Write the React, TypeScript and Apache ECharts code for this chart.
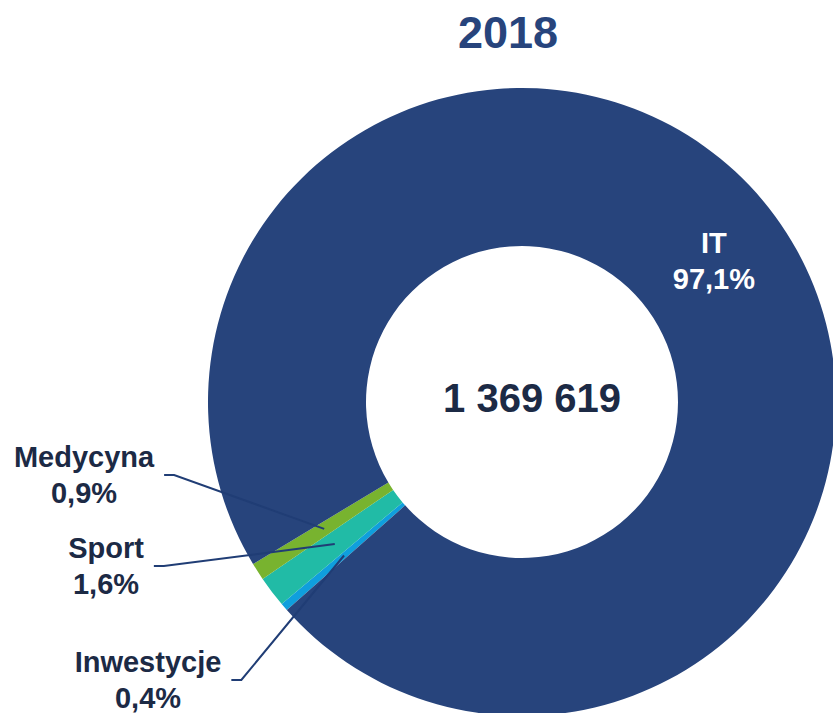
import React, { useEffect, useRef } from 'react';
import * as echarts from 'echarts';

const YEAR = '2018';
const TOTAL = 1369619;
const categories = ['Inwestycje', 'Sport', 'Medycyna', 'IT'];
const shares = [0.4, 1.6, 0.9, 97.1];
const colors = ['#0F9FDD', '#21BBA6', '#78B32F', '#27447C'];

const FONT = '"Liberation Sans", Arial, Helvetica, sans-serif';
const TEXT_DARK = '#1C2A45';
const NAVY = '#27447C';
const LINE_COLOR = '#203D75';
const CX = 522;
const CY = 402;
const R0 = 156;
const R1 = 314;
const START_ANGLE = 221.5;
// label block centres for the outside labels
const labelPos: Record<string, [number, number]> = {
  Medycyna: [84, 475],
  Sport: [106, 566],
  Inwestycje: [148, 680],
};

function fmtPct(v: number) {
  return v.toFixed(1).replace('.', ',') + '%';
}
function fmtTotal(n: number) {
  return String(n).replace(/\B(?=(\d{3})+(?!\d))/g, ' ');
}

function midAngleFromData(idx: number) {
  const sum = shares.reduce((a, b) => a + b, 0);
  let acc = 0;
  for (let i = 0; i < idx; i++) acc += shares[i];
  const mid = acc + shares[idx] / 2;
  return START_ANGLE - (mid / sum) * 360;
}

export default function App() {
  const ref = useRef<HTMLDivElement>(null);
  useEffect(() => {
    if (!ref.current) return;
    const chart = echarts.init(ref.current, undefined, { renderer: 'svg' });
    const common = {
      type: 'pie',
      center: [CX, CY],
      radius: [R0, R1],
      startAngle: START_ANGLE,
      clockwise: true,
      avoidLabelOverlap: false,
      silent: true,
    };
    const option: any = {
      animation: false,
      graphic: [
        {
          type: 'text',
          x: 508,
          y: 32,
          style: {
            text: YEAR,
            align: 'center',
            verticalAlign: 'middle',
            fontSize: 45,
            fontWeight: 'bold',
            fontFamily: FONT,
            fill: NAVY,
          },
        },
        {
          type: 'text',
          x: 532,
          y: 398,
          z: 10,
          style: {
            text: fmtTotal(TOTAL),
            align: 'center',
            verticalAlign: 'middle',
            fontSize: 40,
            fontWeight: 'bold',
            fontFamily: FONT,
            fill: TEXT_DARK,
          },
        },
      ],
      series: [
        {
          ...common,
          z: 2,
          label: { show: false },
          labelLine: { show: false },
          data: categories.map((c, i) => ({
            name: c,
            value: shares[i],
            itemStyle: { color: colors[i] },
          })),
        },
        {
          ...common,
          z: 4,
          label: {
            show: true,
            position: 'outside',
            formatter: (p: any) => p.name + '\n' + fmtPct(p.value),
            fontFamily: FONT,
            fontWeight: 'bold',
            fontSize: 29,
            lineHeight: 36,
            color: TEXT_DARK,
            align: 'center',
          },
          labelLine: {
            show: true,
            showAbove: true,
            smooth: false,
            lineStyle: { color: LINE_COLOR, width: 2 },
          },
          labelLayout: (params: any) => {
            const name = categories[params.dataIndex];
            const pos = labelPos[name];
            if (!pos) return {};
            const k = (R0 + R1) / 2 / R1;
            let start: number[];
            const pts = params.labelLinePoints;
            if (pts && pts[0]) {
              start = [CX + (pts[0][0] - CX) * k, CY + (pts[0][1] - CY) * k];
            } else {
              const a = (midAngleFromData(params.dataIndex) * Math.PI) / 180;
              const rm = (R0 + R1) / 2;
              start = [CX + rm * Math.cos(a), CY - rm * Math.sin(a)];
            }
            const endX = pos[0] + params.labelRect.width / 2 + 10;
            return {
              x: pos[0],
              y: pos[1],
              align: 'center',
              verticalAlign: 'middle',
              labelLinePoints: [start, [endX + 10, pos[1]], [endX, pos[1]]],
            };
          },
          data: categories.map((c, i) => {
            const item: any = {
              name: c,
              value: shares[i],
              itemStyle: { color: 'rgba(0,0,0,0)' },
            };
            if (c === 'IT') {
              item.label = { position: 'inside', color: '#ffffff' };
              item.labelLine = { show: false };
            }
            return item;
          }),
        },
      ],
    };
    chart.setOption(option);
    return () => {
      chart.dispose();
    };
  }, []);
  return (
    <div
      ref={ref}
      style={{ position: 'fixed', left: 0, top: 0, width: 833, height: 713, background: '#fff' }}
    />
  );
}
